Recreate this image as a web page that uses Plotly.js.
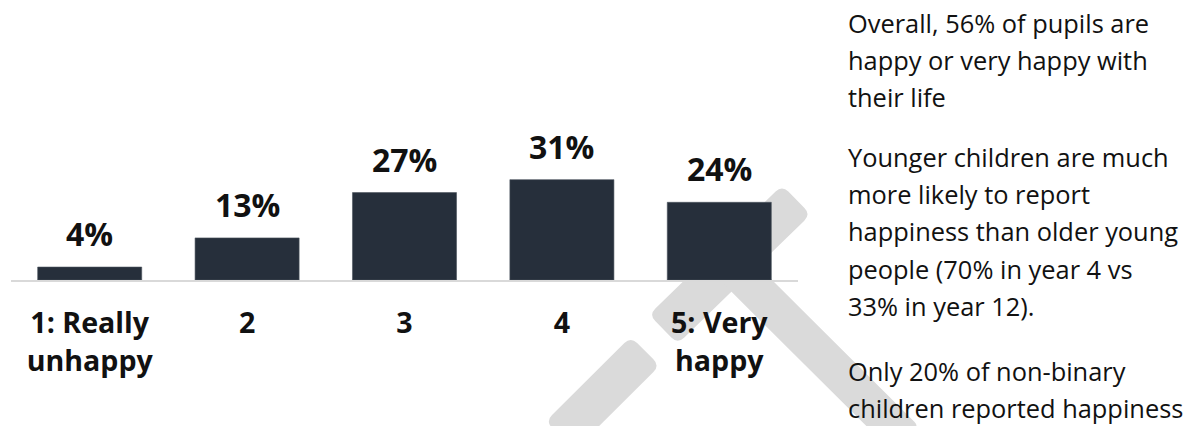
<!DOCTYPE html>
<html>
<head>
<meta charset="utf-8">
<script src="https://cdn.plot.ly/plotly-3.0.1.min.js"></script>
<style>
html,body{margin:0;padding:0;background:#fff;}
#chart{width:1191px;height:426px;}
</style>
</head>
<body>
<div id="chart"></div>
<script>
// ---- data ----
const categories = ['1: Really<br>unhappy', '2', '3', '4', '5: Very<br>happy'];
const values = [4, 13, 27, 31, 24];
const valueLabels = ['4%', '13%', '27%', '31%', '24%'];
const paragraph1 = ['Overall, 56% of pupils are', 'happy or very happy with', 'their life'];
const paragraph2 = ['Younger children are much', 'more likely to report', 'happiness than older young', 'people (70% in year 4 vs', '33% in year 12).'];
const paragraph3 = ['Only 20% of non-binary', 'children reported happiness'];

// ---- layout geometry ----
const W = 1191, H = 426;
const mL = 11.35, plotW = 786.25, mT = 20.5, plotH = 260;
const mR = W - mL - plotW, mB = H - mT - plotH;
const bottomPx = mT + plotH;
const px2x = p => (p - mL) / plotW;
const px2y = p => (bottomPx - p) / plotH;

function band(ax, ay, bx, by, w, r) {
  const dx = bx - ax, dy = by - ay, len = Math.hypot(dx, dy);
  const ux = dx / len, uy = dy / len, nx = -uy, ny = ux, h = w / 2;
  const c = [
    [ax + nx * h, ay + ny * h],
    [bx + nx * h, by + ny * h],
    [bx - nx * h, by - ny * h],
    [ax - nx * h, ay - ny * h]
  ];
  const pts = [];
  for (let i = 0; i < 4; i++) {
    const p = c[i], prev = c[(i + 3) % 4], next = c[(i + 1) % 4];
    const d1 = Math.hypot(prev[0] - p[0], prev[1] - p[1]);
    const d2 = Math.hypot(next[0] - p[0], next[1] - p[1]);
    const s = [p[0] + (prev[0] - p[0]) * r / d1, p[1] + (prev[1] - p[1]) * r / d1];
    const e = [p[0] + (next[0] - p[0]) * r / d2, p[1] + (next[1] - p[1]) * r / d2];
    pts.push({s, p, e});
  }
  const f = q => px2x(q[0]).toFixed(5) + ',' + px2y(q[1]).toFixed(5);
  let path = 'M' + f(pts[0].s);
  pts.forEach((o, i) => {
    if (i > 0) path += ' L' + f(o.s);
    path += ' Q' + f(o.p) + ' ' + f(o.e);
  });
  path += ' Z';
  return {type: 'path', xref: 'paper', yref: 'paper', path, fillcolor: '#dadada', line: {width: 0}, layer: 'below'};
}

const shapes = [
  band(560, 437, 645, 352, 41, 9),
  band(663, 330, 796, 200, 41, 9),
  band(735, 270, 905, 440, 37, 6)
];

const annotations = [];
categories.forEach((c, i) => {
  annotations.push({
    x: i, y: values[i], xref: 'x', yref: 'y', text: valueLabels[i], showarrow: false,
    yanchor: 'bottom', xanchor: 'center', yshift: 10,
    font: {family: 'Open Sans', size: 32, color: '#111', weight: 700}
  });
});

const lineGap = 37.5;
const paragraphs = [[paragraph1, 32.3], [paragraph2, 166.7], [paragraph3, 381.7]];
paragraphs.forEach(([lines, base]) => {
  lines.forEach((t, k) => {
    const baseline = base + k * lineGap;
    annotations.push({
      x: px2x(847), y: px2y(baseline), xref: 'paper', yref: 'paper', text: t, showarrow: false,
      xanchor: 'left', yanchor: 'bottom', yshift: -8, borderpad: 0,
      font: {family: 'Open Sans', size: 25.4, color: '#111'}
    });
  });
});

const trace = {
  type: 'bar', x: categories, y: values,
  marker: {color: '#262f3b', line: {color: '#4a525d', width: 0.6}},
  hoverinfo: 'none'
};

const layout = {
  width: W, height: H,
  margin: {l: mL, r: mR, t: mT, b: mB, pad: 0},
  paper_bgcolor: '#ffffff', plot_bgcolor: 'rgba(0,0,0,0)',
  showlegend: false, bargap: 0.339,
  xaxis: {
    type: 'category', showline: true, linecolor: '#d9d9d9', linewidth: 2,
    ticks: '', showgrid: false, zeroline: false, fixedrange: true,
    ticklabelstandoff: 17,
    tickfont: {family: 'Open Sans', size: 28.6, color: '#111', weight: 700}
  },
  yaxis: {range: [0, 80], visible: false, showgrid: false, zeroline: false, fixedrange: true},
  shapes, annotations
};

Plotly.newPlot('chart', [trace], layout, {displayModeBar: false, staticPlot: true});
</script>
</body>
</html>
